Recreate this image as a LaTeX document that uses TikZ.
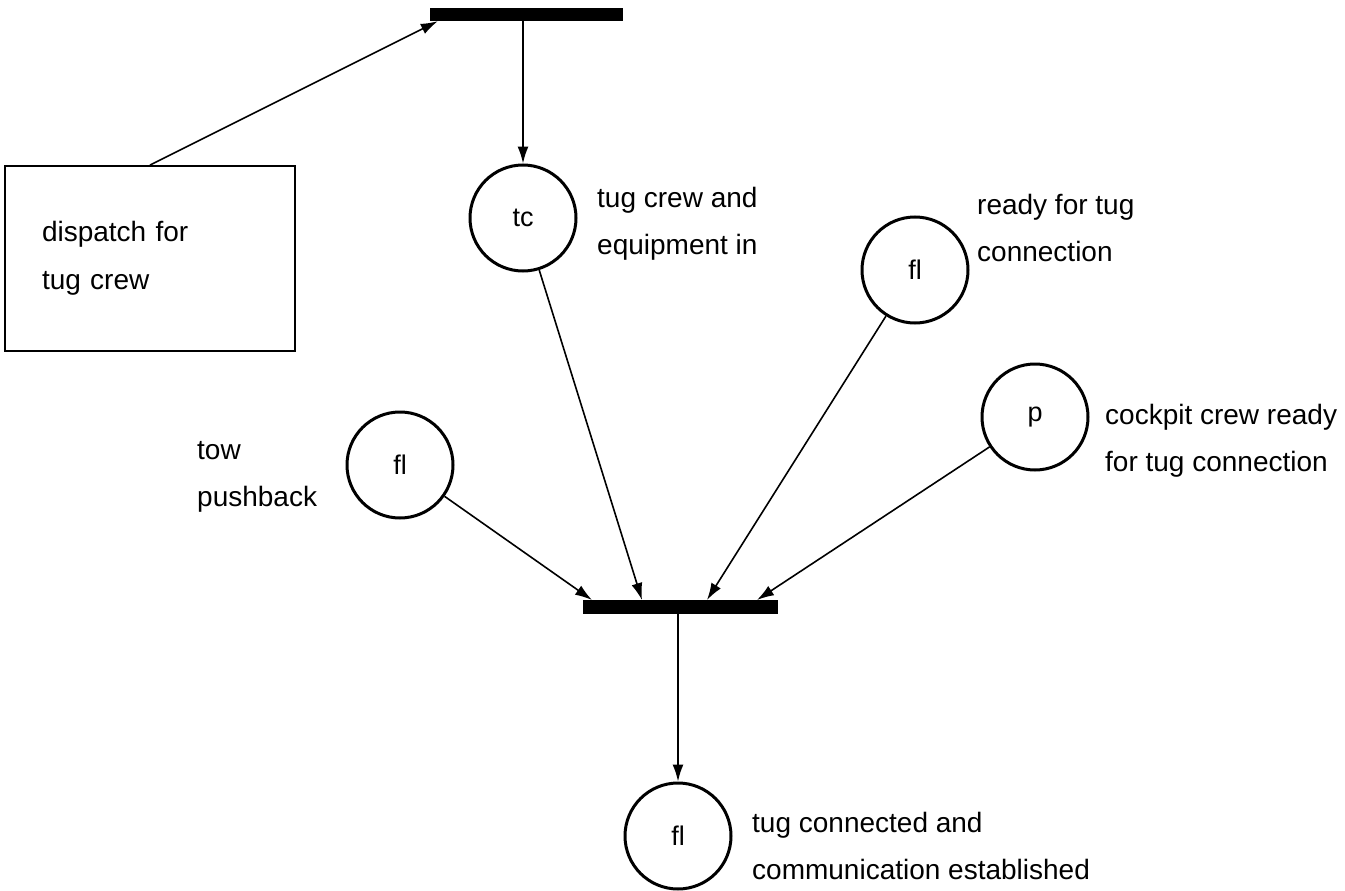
\documentclass[tikz,border=0pt]{standalone}
\usepackage{fontspec}
\setmainfont{Liberation Sans}
\usetikzlibrary{arrows.meta,calc}
\begin{document}
\begin{tikzpicture}[x=1pt,y=-1pt,
  place/.style={circle,draw,line width=3pt,minimum size=106pt,inner sep=0pt,
    font=\fontsize{27}{30}\selectfont},
  trans/.style={fill=black,inner sep=0pt,minimum height=13pt},
  lbl/.style={anchor=west,align=left,inner sep=0pt,font=\fontsize{28}{47}\selectfont},
  arc/.style={line width=1.6pt,-{Latex[length=17pt,width=11pt]}},
  taskbox/.style={draw,line width=1.8pt,rectangle,align=left,text width=216pt,
    inner xsep=37pt,inner ysep=0pt,minimum height=185pt,font=\fontsize{28}{48}\selectfont},
]
\useasboundingbox (0,0) rectangle (1345,891);

% transitions
\node[trans,minimum width=193pt] (t1) at (526.5,14.5) {};
\node[trans,minimum width=195pt,minimum height=14pt] (t2) at (680.5,607) {};

% task box
\node[taskbox] (box) at (150,258.5) {dispatch for\\tug crew};

% places
\node[place] (tc) at (523,218) {tc};
\node[place] (flR) at (915,270) {fl};
\node[place] (p) at (1035,417) {p};
\node[place] (flL) at (400,465) {fl};
\node[place] (flB) at (678,836) {fl};

% place labels
\node[lbl] (ltc) at (597,223.5) {tug crew and\\equipment in};
\node[lbl] (lflR) at (977,228) {ready for tug\\connection};
\node[lbl] (lp) at (1105,441) {cockpit crew ready\\for tug connection};
\node[lbl] (lflL) at (197,476.5) {tow\\pushback};
\node[lbl] (lflB) at (752,845.5) {tug connected and\\communication established};

% input points on the lower transition
\coordinate (in1) at (592,600);
\coordinate (in2) at (642,600);
\coordinate (in3) at (707,600);
\coordinate (in4) at (757,600);

% arcs
\draw[arc] (box.north) -- ($(t1.south west)+(8,0)$);
\draw[arc] (tc.north |- t1.south) -- (tc.north);
\draw[arc] (flL) -- (in1);
\draw[arc] (tc) -- (in2);
\draw[arc] (flR) -- (in3);
\draw[arc] (p) -- (in4);
\draw[arc] (flB.north |- t2.south) -- (flB.north);
\end{tikzpicture}
\end{document}
